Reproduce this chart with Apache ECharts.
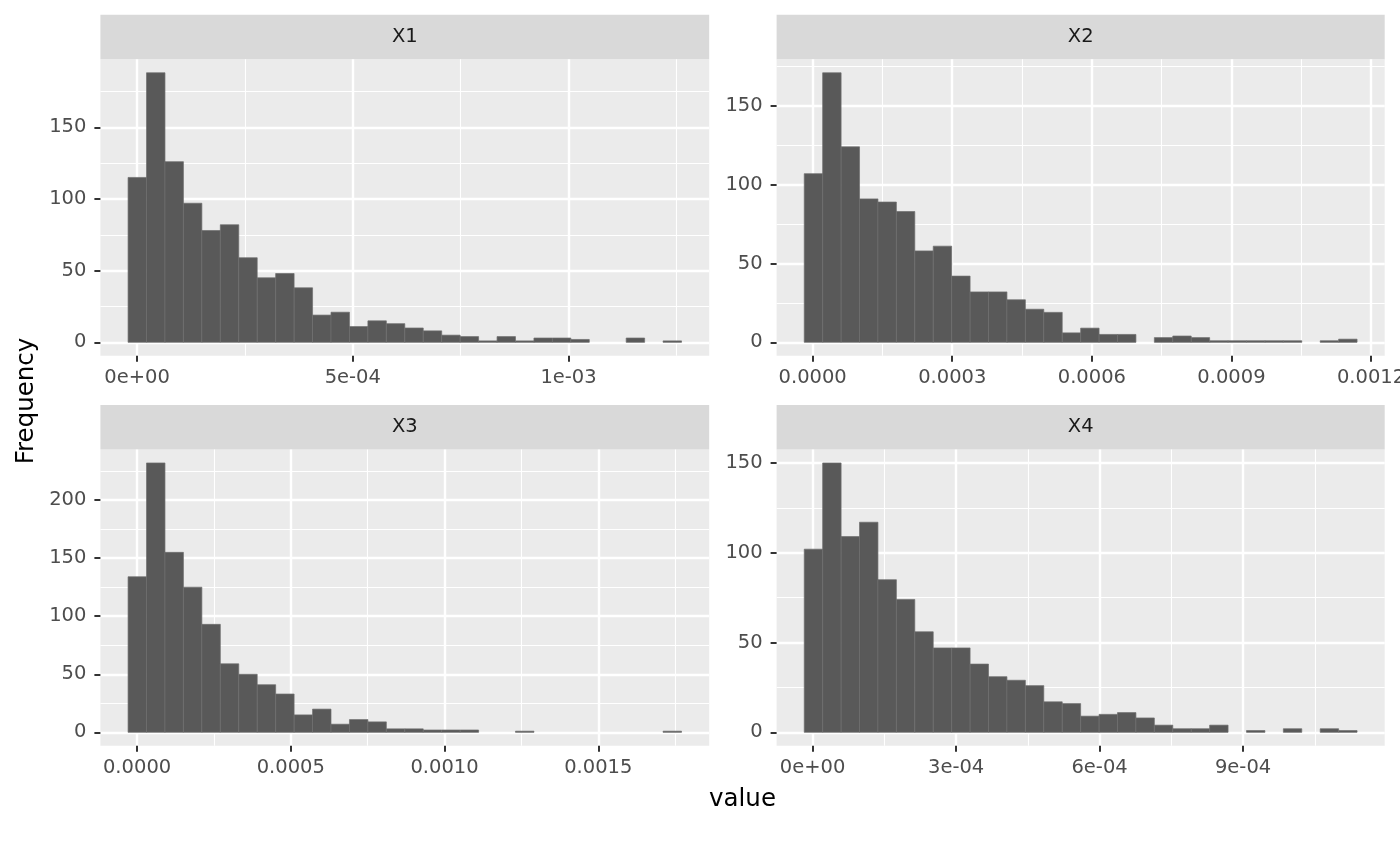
<!DOCTYPE html>
<html><head><meta charset="utf-8">
<script src="https://cdn.jsdelivr.net/npm/echarts@6/dist/echarts.min.js"></script>
<style>html,body{margin:0;padding:0;background:#fff}#c{width:1400px;height:866px}</style>
</head><body><div id="c"></div>
<script>
// ---------- data ----------
const panelNames = ['X1', 'X2', 'X3', 'X4'];
// lower edge of first bin and bin width (30 bins per panel)
const binStarts = [-2.086e-5, -1.805e-5, -2.93e-5, -1.756e-5];
const binWidths = [4.276e-5, 3.96e-5, 6.0e-5, 3.853e-5];

const countsX1 = [115,188,126,97,78,82,59,45,48,38,19,21,11,15,13,10,8,5,4,1,4,1,3,3,2,0,0,3,0,1];
const countsX2 = [107,171,124,91,89,83,58,61,42,32,32,27,21,19,6,9,5,5,0,3,4,3,1,1,1,1,1,0,1,2];
const countsX3 = [134,232,155,125,93,59,50,41,33,15,20,7,11,9,3,3,2,2,2,0,0,1,0,0,0,0,0,0,0,1];
const countsX4 = [102,150,109,117,85,74,56,47,47,38,31,29,26,17,16,9,10,11,8,4,2,2,4,0,1,0,2,0,2,1];

const xTicksX1 = [0, 5e-4, 1e-3];
const xLabelsX1 = ['0e+00', '5e-04', '1e-03'];
const xMinorX1 = [2.5e-4, 7.5e-4, 1.25e-3];
const xTicksX2 = [0, 3e-4, 6e-4, 9e-4, 1.2e-3];
const xLabelsX2 = ['0.0000', '0.0003', '0.0006', '0.0009', '0.0012'];
const xMinorX2 = [1.5e-4, 4.5e-4, 7.5e-4, 1.05e-3];
const xTicksX3 = [0, 5e-4, 1e-3, 1.5e-3];
const xLabelsX3 = ['0.0000', '0.0005', '0.0010', '0.0015'];
const xMinorX3 = [2.5e-4, 7.5e-4, 1.25e-3, 1.75e-3];
const xTicksX4 = [0, 3e-4, 6e-4, 9e-4];
const xLabelsX4 = ['0e+00', '3e-04', '6e-04', '9e-04'];
const xMinorX4 = [1.5e-4, 4.5e-4, 7.5e-4, 1.05e-3];

const yTicksX1 = [0, 50, 100, 150];
const yMinorX1 = [25, 75, 125, 175];
const yTicksX2 = [0, 50, 100, 150];
const yMinorX2 = [25, 75, 125, 175];
const yTicksX3 = [0, 50, 100, 150, 200];
const yMinorX3 = [25, 75, 125, 175, 225];
const yTicksX4 = [0, 50, 100, 150];
const yMinorX4 = [25, 75, 125];

const xTitle = 'value';
const yTitle = 'Frequency';

// ---------- build ----------
const countsList = [countsX1, countsX2, countsX3, countsX4];
const xTicks = [xTicksX1, xTicksX2, xTicksX3, xTicksX4];
const xLabels = [xLabelsX1, xLabelsX2, xLabelsX3, xLabelsX4];
const xMinors = [xMinorX1, xMinorX2, xMinorX3, xMinorX4];
const yTicks = [yTicksX1, yTicksX2, yTicksX3, yTicksX4];
const yMinors = [yMinorX1, yMinorX2, yMinorX3, yMinorX4];

const layout = [
  {left: 100.4, top: 59.3, width: 608.8, height: 296.5},
  {left: 776.6, top: 59.3, width: 608.1, height: 296.5},
  {left: 100.4, top: 449.5, width: 608.8, height: 296.3},
  {left: 776.6, top: 449.5, width: 608.1, height: 296.3}
];
const stripH = 44.5;
const FONT = 'DejaVu Sans';

function xExtent(i) {
  const lo = binStarts[i], hi = lo + countsList[i].length * binWidths[i];
  const p = (hi - lo) * 0.05;
  return [lo - p, hi + p];
}
function yExtent(i) {
  const m = Math.max.apply(null, countsList[i]);
  return [-0.05 * m, 1.05 * m];
}
function fmt(ticks, labels) {
  return function (v) {
    const k = ticks.findIndex(t => Math.abs(t - v) < 1e-12);
    return k >= 0 ? labels[k] : '';
  };
}

const grids = [], xAxes = [], yAxes = [], series = [], graphics = [];
for (let i = 0; i < 4; i++) {
  grids.push(Object.assign({show: true, backgroundColor: '#EBEBEB', borderWidth: 0, outerBoundsMode: 'none', containLabel: false}, layout[i]));
}
for (let i = 0; i < 4; i++) {
  const xe = xExtent(i), ye = yExtent(i);
  xAxes.push({
    type: 'value', gridIndex: i, min: xe[0], max: xe[1], position: 'bottom',
    axisLine: {show: false, onZero: false},
    axisTick: {show: true, length: 6, lineStyle: {color: '#333333', width: 2}, customValues: xTicks[i]},
    axisLabel: {show: true, customValues: xTicks[i], formatter: fmt(xTicks[i], xLabels[i]),
      color: '#4D4D4D', fontSize: 19.5, fontFamily: FONT, margin: 12},
    splitLine: {show: true, lineStyle: {color: '#FFFFFF', width: 2.4}}
  });
  yAxes.push({
    type: 'value', gridIndex: i, min: ye[0], max: ye[1], position: 'left',
    axisLine: {show: false, onZero: false},
    axisTick: {show: true, length: 6, lineStyle: {color: '#333333', width: 2}, customValues: yTicks[i]},
    axisLabel: {show: true, customValues: yTicks[i], formatter: v => String(Math.round(v)),
      color: '#4D4D4D', fontSize: 19.5, fontFamily: FONT, margin: 14},
    splitLine: {show: true, lineStyle: {color: '#FFFFFF', width: 2.4}}
  });
}
for (let i = 0; i < 4; i++) {
  const xe = xExtent(i), ye = yExtent(i);
  xAxes.push({
    type: 'value', gridIndex: i, min: xe[0], max: xe[1], position: 'top',
    axisLine: {show: false, onZero: false}, axisTick: {show: false, customValues: xMinors[i]},
    axisLabel: {show: false, customValues: xMinors[i]},
    splitLine: {show: true, lineStyle: {color: '#FFFFFF', width: 1.1}}
  });
  yAxes.push({
    type: 'value', gridIndex: i, min: ye[0], max: ye[1], position: 'right',
    axisLine: {show: false, onZero: false}, axisTick: {show: false, customValues: yMinors[i]},
    axisLabel: {show: false, customValues: yMinors[i]},
    splitLine: {show: true, lineStyle: {color: '#FFFFFF', width: 1.1}}
  });
}
for (let i = 0; i < 4; i++) {
  const start = binStarts[i], w = binWidths[i];
  series.push({
    type: 'custom', xAxisIndex: i, yAxisIndex: i, clip: false,
    data: countsList[i].map((c, k) => [start + k * w, start + (k + 1) * w, c]),
    encode: {x: [0, 1], y: 2},
    renderItem: function (params, api) {
      const c = api.value(2);
      if (!c) return null;
      const p0 = api.coord([api.value(0), c]);
      const p1 = api.coord([api.value(1), 0]);
      return {
        type: 'rect',
        shape: {x: p0[0], y: p0[1], width: p1[0] - p0[0], height: p1[1] - p0[1]},
        style: {fill: '#595959', stroke: '#6E6E6E', lineWidth: 0.7}
      };
    }
  });
  const L = layout[i];
  graphics.push({
    type: 'rect', silent: true,
    shape: {x: L.left, y: L.top - stripH, width: L.width, height: stripH},
    style: {fill: '#D9D9D9'}
  });
  graphics.push({
    type: 'text', silent: true, x: L.left + L.width / 2, y: L.top - stripH / 2,
    style: {text: panelNames[i], fill: '#1A1A1A', font: '19.5px "DejaVu Sans"',
      align: 'center', verticalAlign: 'middle'}
  });
}
graphics.push({
  type: 'text', silent: true, x: 742.5, y: 800,
  style: {text: xTitle, fill: '#000000', font: '24.5px "DejaVu Sans"', align: 'center', verticalAlign: 'middle'}
});
graphics.push({
  type: 'text', silent: true, x: 27, y: 401, rotation: Math.PI / 2,
  style: {text: yTitle, fill: '#000000', font: '24.5px "DejaVu Sans"', align: 'center', verticalAlign: 'middle'}
});

const chart = echarts.init(document.getElementById('c'), null, {renderer: 'canvas'});
chart.setOption({
  animation: false,
  backgroundColor: '#FFFFFF',
  grid: grids,
  xAxis: xAxes,
  yAxis: yAxes,
  series: series,
  graphic: graphics
});
</script>
</body></html>
